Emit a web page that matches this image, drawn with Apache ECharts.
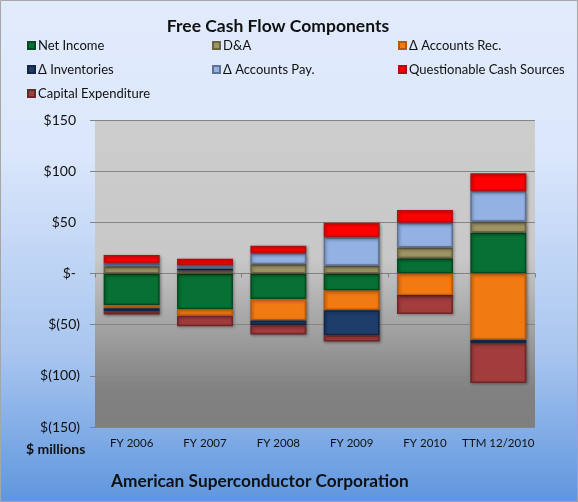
<!DOCTYPE html>
<html>
<head>
<meta charset="utf-8">
<script src="https://cdn.jsdelivr.net/npm/echarts@6/dist/echarts.min.js"></script>
<style>
  html, body { margin: 0; padding: 0; }
  #chart { width: 578px; height: 502px; }
</style>
</head>
<body>
<div id="chart"></div>
<script>
var categories = ['FY 2006', 'FY 2007', 'FY 2008', 'FY 2009', 'FY 2010', 'TTM 12/2010'];
var netIncome = [-31, -35, -25, -16.5, 15, 40];
var dna = [7, 3, 9, 7.5, 10.5, 10.5];
var accountsRec = [-3, -6.5, -21, -19.5, -22, -65];
var inventories = [-3, 2, -4.5, -24.5, 0, -3];
var accountsPay = [3, 3, 11, 28, 24, 30];
var questionable = [8, 6.5, 7, 14, 12.5, 17.5];
var capex = [-3, -10, -9, -6, -17.5, -39];
var yTicks = [-150, -100, -50, 0, 50, 100, 150];
var yLabels = ['$(150)', '$(100)', '$(50)', '$-', '$50', '$100', '$150'];

var font = 'Lato';
var myChart = echarts.init(document.getElementById('chart'));

function bar(name, data, color, border) {
    return {
        name: name,
        type: 'bar',
        stack: 'fcf',
        barWidth: 56,
        data: data,
        itemStyle: {
            color: color,
            borderColor: border,
            borderWidth: 1.5,
            shadowBlur: 3,
            shadowColor: 'rgba(0,0,0,0.35)',
            shadowOffsetX: 1,
            shadowOffsetY: 1
        }
    };
}

function legendCol(left, names) {
    return {
        left: left,
        top: 33,
        orient: 'vertical',
        itemWidth: 7,
        itemHeight: 7,
        itemGap: 9,
        icon: 'rect',
        data: names,
        textStyle: {fontFamily: font, fontSize: 13, lineHeight: 15, color: '#111', padding: [0, 0, 0, -2]}
    };
}

var option = {
    backgroundColor: {
        type: 'linear', x: 0, y: 0, x2: 0, y2: 1,
        colorStops: [
            {offset: 0, color: '#e1ebfc'},
            {offset: 0.3, color: '#dbe7fb'},
            {offset: 0.7, color: '#a9c6ef'},
            {offset: 1, color: '#5f96de'}
        ]
    },
    animation: false,
    graphic: [{
        type: 'rect',
        shape: {x: 0.5, y: 0.5, width: 577, height: 501},
        style: {fill: 'none', stroke: '#a6a6a6', lineWidth: 1},
        silent: true
    }],
    title: [
        {
            text: 'Free Cash Flow Components',
            left: 273, top: 12, textAlign: 'center',
            textStyle: {fontFamily: font, fontSize: 17.5, fontWeight: 'bold', color: '#111'}
        },
        {
            text: 'American Superconductor Corporation',
            left: 106, top: 468,
            textStyle: {fontFamily: font, fontSize: 17.3, fontWeight: 'bold', color: '#111'}
        },
        {
            text: '$ millions',
            left: 21, top: 437,
            textStyle: {fontFamily: font, fontSize: 14, fontWeight: 'bold', color: '#111'}
        }
    ],
    legend: [
        legendCol(22, ['Net Income', 'Δ Inventories', 'Capital Expenditure']),
        legendCol(207, ['D&A', 'Δ Accounts Pay.']),
        legendCol(393, ['Δ Accounts Rec.', 'Questionable Cash Sources'])
    ],
    grid: {
        left: 95, right: 43, top: 120, bottom: 75,
        show: true,
        borderWidth: 0,
        backgroundColor: {
            type: 'linear', x: 0, y: 0, x2: 0, y2: 1,
            colorStops: [
                {offset: 0, color: '#cdcdcd'},
                {offset: 0.45, color: '#c8c8c8'},
                {offset: 0.88, color: '#818181'},
                {offset: 1, color: '#7f7f7f'}
            ]
        }
    },
    xAxis: [
        {
            type: 'category',
            data: categories,
            axisLine: {show: false, onZero: false},
            axisTick: {show: false},
            axisLabel: {fontFamily: font, fontSize: 11.5, color: '#111', margin: 10, interval: 0}
        },
        {
            type: 'category',
            data: categories,
            axisLine: {show: true, onZero: true, lineStyle: {color: '#808080'}},
            axisTick: {show: true, inside: true, length: 4, lineStyle: {color: '#808080'}},
            axisLabel: {show: false}
        }
    ],
    yAxis: {
        type: 'value',
        min: -150,
        max: 150,
        interval: 50,
        axisLine: {show: false},
        axisTick: {show: true, length: 5, lineStyle: {color: '#808080'}},
        splitLine: {lineStyle: {color: '#858585', width: 1}},
        axisLabel: {
            fontFamily: font, fontSize: 14, color: '#111', margin: 15,
            formatter: function (v) {
                var s = yLabels[yTicks.indexOf(v)];
                return v < 0 ? s : '{p|' + s + '}';
            },
            rich: {p: {fontFamily: font, fontSize: 14, color: '#111', padding: [0, 4, 0, 0]}}
        }
    },
    series: [
        bar('Net Income', netIncome, '#077134', '#044a22'),
        bar('D&A', dna, '#9e9566', '#6a6440'),
        bar('Δ Accounts Rec.', accountsRec, '#f27a12', '#b8590a'),
        bar('Δ Inventories', inventories, '#1e3d6b', '#122645'),
        bar('Δ Accounts Pay.', accountsPay, '#93b1e2', '#5f7195'),
        bar('Questionable Cash Sources', questionable, '#ff0000', '#b01010'),
        bar('Capital Expenditure', capex, '#a33d3d', '#6e2626')
    ]
};
myChart.setOption(option);
</script>
</body>
</html>
